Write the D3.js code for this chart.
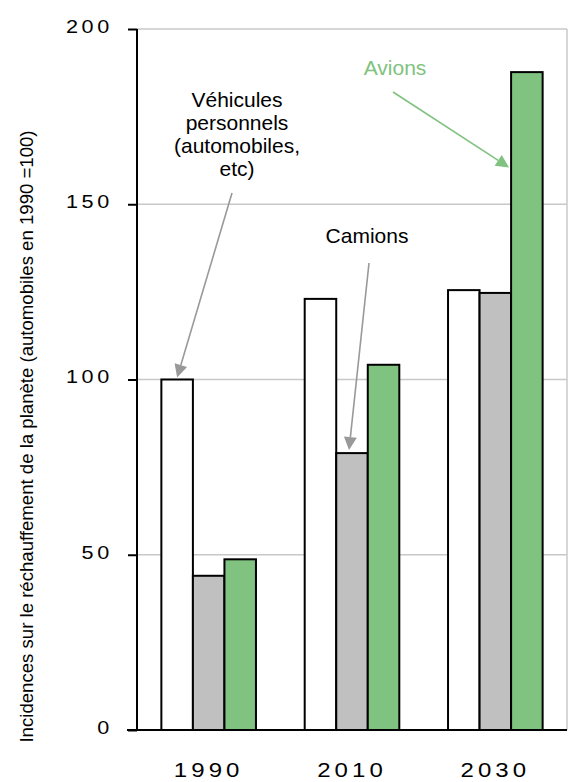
<!DOCTYPE html>
<html>
<head>
<meta charset="utf-8">
<script src="https://cdn.jsdelivr.net/npm/d3@7"></script>
<style>
  html, body { margin: 0; padding: 0; background: #fff; }
  svg { display: block; font-family: "Liberation Sans", Arial, sans-serif; }
</style>
</head>
<body>
<svg id="chart" width="573" height="782"></svg>
<script>
// Years on the x axis
const years = ["1990", "2010", "2030"];
// Series (automobiles in 1990 = 100)
const seriesNames = ["Véhicules personnels", "Camions", "Avions"];
const vehicules = [100, 123, 125.5];
const camions = [44, 79, 124.7];
const avions = [48.7, 104.2, 187.7];
const yTicks = [0, 50, 100, 150, 200];
const seriesColors = ["#ffffff", "#c0c0c0", "#80c280"];

const W = 573, H = 782;
const margin = { top: 29, right: 6, bottom: 52, left: 137 };
const iw = W - margin.left - margin.right;
const ih = H - margin.top - margin.bottom;
const FONT = "Liberation Sans, Arial, sans-serif";
const WIDE = 1.2; // horizontal stretch of the axis numerals

const svg = d3.select("#chart");
const g = svg.append("g").attr("transform", `translate(${margin.left},${margin.top})`);

const x0 = d3.scaleBand().domain(years).range([0, iw]).paddingInner(0.34).paddingOuter(0.17);
const x1 = d3.scaleBand().domain(seriesNames).range([0, x0.bandwidth()]);
const y = d3.scaleLinear().domain([0, 200]).range([ih, 0]);

const valuesBySeries = [vehicules, camions, avions];

// Gridlines
g.append("g").selectAll("line").data(yTicks.filter(t => t > 0)).join("line")
  .attr("x1", 0).attr("x2", iw)
  .attr("y1", d => y(d)).attr("y2", d => y(d))
  .attr("stroke", "#c8c8c8").attr("stroke-width", 1.5);
// Right plot border
g.append("line").attr("x1", iw).attr("x2", iw).attr("y1", 0).attr("y2", ih)
  .attr("stroke", "#c8c8c8").attr("stroke-width", 1.5);

// Bars
const groups = g.append("g").selectAll("g").data(years).join("g")
  .attr("transform", d => `translate(${x0(d)},0)`);
groups.selectAll("rect")
  .data((yr, i) => seriesNames.map((s, k) => ({ s, k, v: valuesBySeries[k][i] })))
  .join("rect")
  .attr("x", d => x1(d.s))
  .attr("width", x1.bandwidth())
  .attr("y", d => y(d.v))
  .attr("height", d => y(0) - y(d.v))
  .attr("fill", d => seriesColors[d.k])
  .attr("stroke", "#000").attr("stroke-width", 2);

// Y axis
const yAxis = d3.axisLeft(y).tickValues(yTicks).tickSize(9).tickPadding(15);
const ya = g.append("g").call(yAxis);
ya.select(".domain").attr("stroke", "#000").attr("stroke-width", 2).attr("d", `M0,0V${ih}`);
ya.selectAll(".tick line").attr("stroke", "#000").attr("stroke-width", 2);
ya.selectAll(".tick text")
  .attr("font-size", 18).attr("fill", "#000").attr("font-family", FONT)
  .attr("dy", 3.3)
  .attr("x", -24.2 / WIDE)
  .attr("transform", `scale(${WIDE},1)`)
  .style("letter-spacing", "3px");

// X axis
const xa = g.append("g").attr("transform", `translate(0,${ih})`)
  .call(d3.axisBottom(x0).tickSize(0).tickPadding(0));
xa.select(".domain").attr("stroke", "#000").attr("stroke-width", 2).attr("d", `M-10,0H${iw}`);
xa.selectAll(".tick text")
  .attr("font-size", 20).attr("fill", "#000").attr("font-family", FONT)
  .attr("y", 47).attr("dy", 0).attr("x", 0)
  .attr("transform", `scale(${WIDE},1)`)
  .style("letter-spacing", "3.4px");

// Y axis title
svg.append("text")
  .attr("transform", `translate(33,${margin.top + ih / 2 + 57}) rotate(-90)`)
  .attr("text-anchor", "middle")
  .attr("font-size", 18.6)
  .attr("fill", "#000")
  .text("Incidences sur le réchauffement de la planète (automobiles en 1990 =100)");

// Annotations with arrows
function arrow(x1p, y1p, x2p, y2p, color) {
  const ang = Math.atan2(y2p - y1p, x2p - x1p);
  const len = 13, hw = 6.5;
  const bx = x2p - len * Math.cos(ang), by = y2p - len * Math.sin(ang);
  svg.append("line").attr("x1", x1p).attr("y1", y1p).attr("x2", bx).attr("y2", by)
    .attr("stroke", color).attr("stroke-width", 1.6);
  const px = -Math.sin(ang) * hw, py = Math.cos(ang) * hw;
  svg.append("polygon")
    .attr("points", `${x2p},${y2p} ${bx + px},${by + py} ${bx - px},${by - py}`)
    .attr("fill", color);
}

const X = (yr, s) => margin.left + x0(yr) + x1(s);
const Y = v => margin.top + y(v);

// Véhicules personnels
const vLines = ["Véhicules", "personnels", "(automobiles,", "etc)"];
svg.append("text").attr("text-anchor", "middle").attr("font-size", 21).attr("fill", "#000")
  .selectAll("tspan").data(vLines).join("tspan")
  .attr("x", 237).attr("y", (d, i) => 107 + i * 23).text(d => d);
arrow(232, 193, X("1990", seriesNames[0]) + x1.bandwidth() / 2, Y(vehicules[0]) - 2, "#999999");

// Camions
svg.append("text").attr("x", 367).attr("y", 243).attr("text-anchor", "middle")
  .attr("font-size", 21).attr("fill", "#000").text("Camions");
arrow(369, 263, X("2010", seriesNames[1]) + x1.bandwidth() / 2 - 3, Y(camions[1]) - 3, "#999999");

// Avions
svg.append("text").attr("x", 395).attr("y", 75).attr("text-anchor", "middle")
  .attr("font-size", 21).attr("fill", "#80c280").text("Avions");
arrow(393, 92, X("2030", seriesNames[2]) - 2, Y(160.5), "#80c280");
</script>
</body>
</html>
